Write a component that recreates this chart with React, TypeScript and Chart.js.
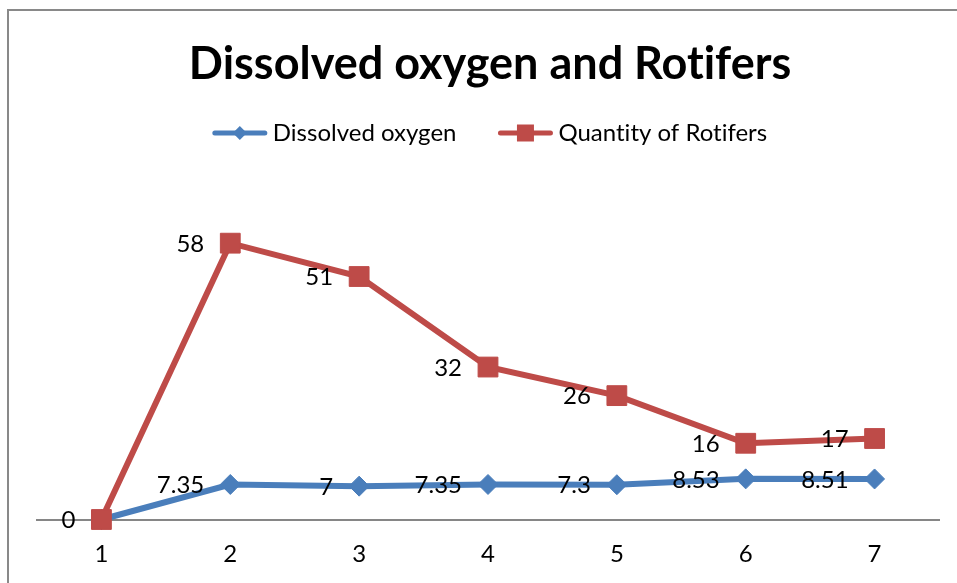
import React, { useEffect, useRef } from 'react';
import { Chart, registerables } from 'chart.js';

Chart.register(...registerables);

const categories = ['1', '2', '3', '4', '5', '6', '7'];
const dissolvedOxygen = [0, 7.35, 7, 7.35, 7.3, 8.53, 8.51];
const rotifers = [0, 58, 51, 32, 26, 16, 17];
const seriesNames = ['Dissolved oxygen', 'Quantity of Rotifers'];
const titleText = 'Dissolved oxygen and Rotifers';

const BLUE = '#4A7EBB';
const RED = '#BE4B48';
const FONT = 'Lato';

const framePlugin = {
  id: 'frame',
  beforeDraw(chart: any) {
    const ctx = chart.ctx;
    ctx.save();
    ctx.strokeStyle = '#898989';
    ctx.lineWidth = 2;
    ctx.beginPath();
    ctx.moveTo(8, chart.height);
    ctx.lineTo(8, 10);
    ctx.lineTo(chart.width, 10);
    ctx.stroke();
    ctx.restore();
  },
};

const titleLegendPlugin = {
  id: 'titleLegend',
  afterDraw(chart: any) {
    const ctx = chart.ctx;
    const cx = 490;
    ctx.save();
    try { (ctx as any).textRendering = 'optimizeSpeed'; } catch (e) {}
    // title
    ctx.fillStyle = '#000';
    ctx.font = `bold 45px ${FONT}`;
    ctx.textAlign = 'center';
    ctx.textBaseline = 'alphabetic';
    ctx.fillText(titleText, cx, 79);

    // legend
    ctx.font = `24px ${FONT}`;
    const lineLen = 54;
    const textGap = 6;
    const itemGap = 42;
    const items = chart.data.datasets.map((ds: any) => ({
      label: ds.label,
      color: ds.borderColor,
      style: ds.pointStyle,
      w: ctx.measureText(ds.label).width,
    }));
    const total = items.reduce((a: number, it: any) => a + lineLen + textGap + it.w, 0) + itemGap * (items.length - 1);
    let x = cx - total / 2;
    const y = 133;
    items.forEach((it: any) => {
      ctx.strokeStyle = it.color;
      ctx.lineWidth = 5;
      ctx.lineCap = 'round';
      ctx.beginPath();
      ctx.moveTo(x + 2, y);
      ctx.lineTo(x + lineLen - 2, y);
      ctx.stroke();
      ctx.fillStyle = it.color;
      const mx = x + lineLen / 2;
      ctx.beginPath();
      if (it.style === 'rectRot') {
        ctx.moveTo(mx - 7, y);
        ctx.lineTo(mx, y - 7);
        ctx.lineTo(mx + 7, y);
        ctx.lineTo(mx, y + 7);
        ctx.closePath();
      } else {
        ctx.rect(mx - 8.5, y - 8.5, 17, 17);
      }
      ctx.fill();
      ctx.fillStyle = '#000';
      ctx.textAlign = 'left';
      ctx.textBaseline = 'alphabetic';
      ctx.fillText(it.label, x + lineLen + textGap, 141);
      x += lineLen + textGap + it.w + itemGap;
    });
    ctx.restore();
  },
};

const dataLabelPlugin = {
  id: 'dataLabels',
  afterDatasetsDraw(chart: any) {
    const ctx = chart.ctx;
    ctx.save();
    ctx.font = `24px ${FONT}`;
    ctx.fillStyle = '#000';
    ctx.textAlign = 'right';
    ctx.textBaseline = 'middle';
    chart.data.datasets.forEach((ds: any, di: number) => {
      const meta = chart.getDatasetMeta(di);
      meta.data.forEach((pt: any, i: number) => {
        if (di === 0 && i === 0) return; // same spot as the other series' label
        ctx.fillText(String(ds.data[i]), pt.x - 26, pt.y + 1);
      });
    });
    ctx.restore();
  },
};

export default function App() {
  const ref = useRef<HTMLCanvasElement | null>(null);
  useEffect(() => {
    if (!ref.current) return;
    const chart = new Chart(ref.current, {
      type: 'line',
      data: {
        labels: categories,
        datasets: [
          {
            label: seriesNames[0],
            data: dissolvedOxygen,
            borderColor: BLUE,
            backgroundColor: BLUE,
            borderWidth: 6,
            pointStyle: 'rectRot',
            pointRadius: 10,
            pointBackgroundColor: BLUE,
            pointBorderColor: BLUE,
            pointBorderWidth: 1,
            order: 1,
            clip: false,
          } as any,
          {
            label: seriesNames[1],
            data: rotifers,
            borderColor: RED,
            backgroundColor: RED,
            borderWidth: 6,
            pointStyle: 'rect',
            pointRadius: 14,
            pointBackgroundColor: RED,
            pointBorderColor: RED,
            pointBorderWidth: 1,
            order: 0,
            clip: false,
          } as any,
        ],
      },
      options: {
        responsive: false,
        animation: false,
        layout: { padding: { left: 37, right: 18, top: 186, bottom: 13.5 } },
        plugins: {
          legend: { display: false },
          title: { display: false },
          tooltip: { enabled: false },
        },
        scales: {
          x: {
            offset: true,
            grid: { display: false, drawTicks: false },
            border: { display: true, color: '#868686', width: 2 },
            ticks: { color: '#000', font: { family: FONT, size: 24 }, padding: 20 },
            afterFit: (s: any) => {
              s.height = 50;
            },
          },
          y: { display: false, min: 0, max: 70 },
        },
      },
      plugins: [framePlugin, dataLabelPlugin, titleLegendPlugin],
    });
    return () => chart.destroy();
  }, []);
  return (
    <div style={{ position: 'absolute', left: 0, top: 0, width: 957, height: 583 }}>
      <canvas ref={ref} width={957} height={583} />
    </div>
  );
}
